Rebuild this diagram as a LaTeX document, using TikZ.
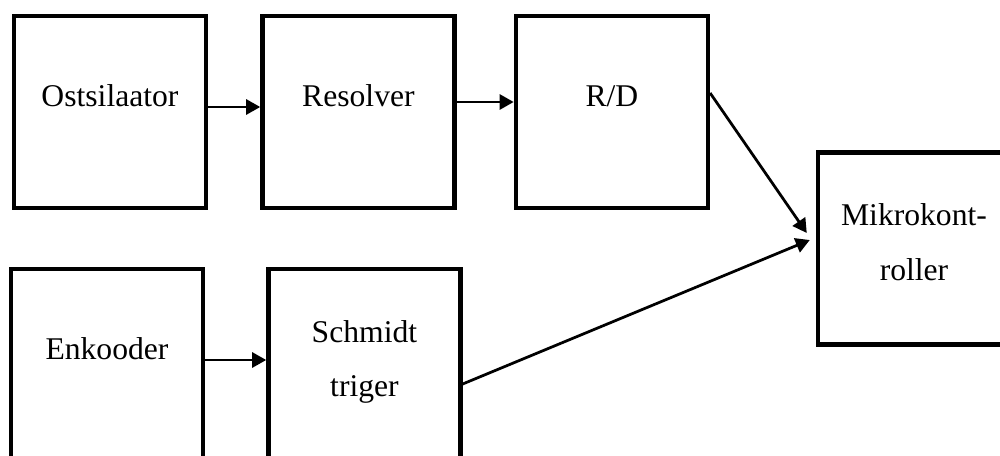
\documentclass[tikz,border=0pt]{standalone}
\usepackage{fontspec}
\setmainfont{Liberation Serif}
\usetikzlibrary{positioning, arrows.meta}

\begin{document}
\begin{tikzpicture}[
    x=0.02cm, y=-0.02cm,
    >={Triangle[length=0.28cm, width=0.3cm]},
    font=\fontsize{18}{31.3}\selectfont,
    node distance=1.04cm,
    block/.style={
        rectangle, draw, line width=0.09cm,
        minimum width=3.84cm, minimum height=3.84cm,
        align=center, text height=0.42cm, text depth=0.66cm
    },
    blockT/.style={block, text height=1.58cm, text depth=0.3cm},
    arrow/.style={->, line width=0.055cm}
]

\useasboundingbox (0,0) rectangle (1000,456);
\clip (0,0) rectangle (1000,456);

%% ─── ROW 1: resolver chain ──────────────────────────────────────────────

\node[block] at (110,112)          (osc)  {Ostsilaator};
\node[block, right=of osc]         (res)  {Resolver};
\node[block, right=1.14cm of res]  (rd)   {R/D};

%% ─── ROW 2: encoder chain ───────────────────────────────────────────────

\node[block] at (107,365)          (enc)  {Enkooder};
\node[blockT, right=1.22cm of enc] (sch)  {Schmidt\\triger};

%% ─── MICROCONTROLLER ────────────────────────────────────────────────────

\node[blockT] at (914,248.5)       (mcu)  {Mikrokont-\\roller};

%% ─── ARROWS ─────────────────────────────────────────────────────────────

\draw[arrow] ([yshift=0.1cm]osc.east) -- ([yshift=0.1cm]res.west);
\draw[arrow] ([yshift=0.2cm]res.east) -- ([yshift=0.2cm]rd.west);
\draw[arrow] ([yshift=0.1cm]enc.east) -- ([yshift=0.1cm]sch.west);

% both chains end at the microcontroller
\draw[arrow] ([yshift=0.38cm]rd.east)   -- ([shift={(-9,-15.5)}]mcu.west);
\draw[arrow] ([yshift=-0.38cm]sch.east) -- ([shift={(-6,-8.5)}]mcu.west);

\end{tikzpicture}
\end{document}
